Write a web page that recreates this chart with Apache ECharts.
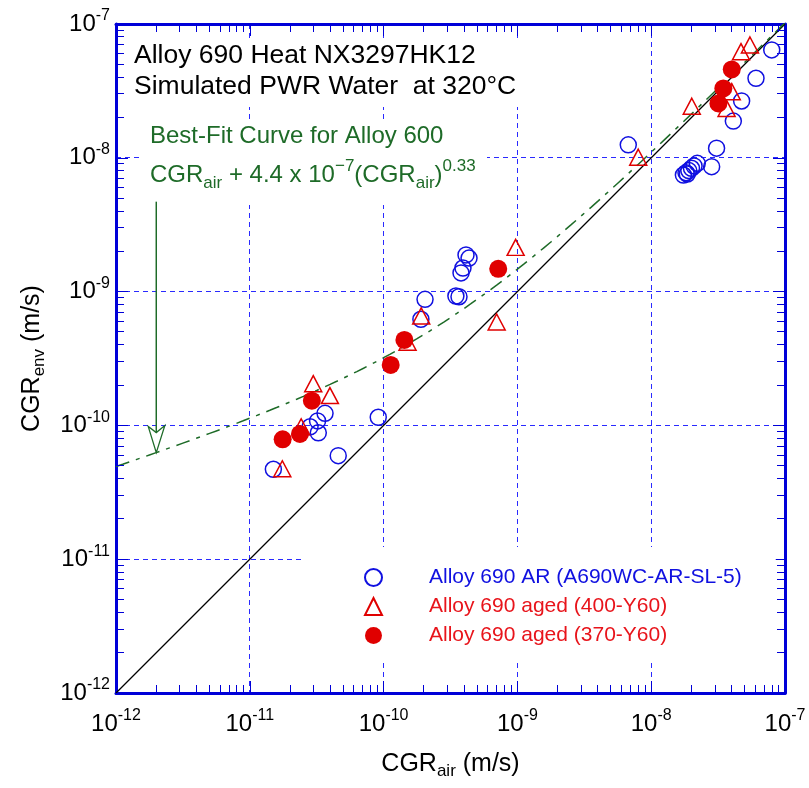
<!DOCTYPE html>
<html>
<head>
<meta charset="utf-8">
<script src="https://cdn.jsdelivr.net/npm/echarts@6/dist/echarts.min.js"></script>
<style>
  html, body { margin: 0; padding: 0; background: #ffffff; }
  #chart { width: 809px; height: 788px; }
</style>
</head>
<body>
<div id="chart"></div>
<script>
// Alloy 690 AR (A690WC-AR-SL-5): CGR in air vs. CGR in environment (m/s)
const arAir = [1.50e-11, 4.58e-11, 3.65e-11, 3.21e-11, 3.25e-11, 2.82e-11, 9.12e-11,
  2.04e-10, 1.90e-10, 3.47e-10, 3.66e-10, 4.13e-10, 4.35e-10, 3.92e-10, 3.79e-10,
  6.74e-9, 3.08e-8, 2.83e-8, 1.74e-8, 1.82e-8, 1.91e-8, 2.00e-8, 2.09e-8, 2.21e-8, 1.86e-8,
  7.96e-8, 6.07e-8, 4.74e-8, 4.11e-8];
const arEnv = [4.70e-11, 5.94e-11, 1.23e-10, 1.08e-10, 8.81e-11, 9.77e-11, 1.15e-10,
  8.75e-10, 6.21e-10, 9.27e-10, 9.16e-10, 1.88e-9, 1.78e-9, 1.50e-9, 1.38e-9,
  1.25e-8, 1.18e-8, 8.59e-9, 7.43e-9, 7.74e-9, 8.02e-9, 8.35e-9, 8.69e-9, 9.09e-9, 7.57e-9,
  6.40e-8, 3.93e-8, 2.66e-8, 1.88e-8];

// Alloy 690 aged (400-Y60)
const aged400Air = [2.98e-11, 3.97e-11, 2.42e-11, 1.75e-11, 9.70e-10, 1.91e-10, 7.00e-10,
  1.51e-10, 8.0e-9, 2.01e-8, 4.69e-8, 5.47e-8, 4.0e-8, 3.66e-8];
const aged400Env = [2.05e-10, 1.67e-10, 9.77e-11, 4.74e-11, 2.14e-9, 6.58e-10, 5.93e-10,
  4.18e-10, 1.01e-8, 2.43e-8, 6.21e-8, 6.97e-8, 3.12e-8, 2.34e-8];

// Alloy 690 aged (370-Y60)
const aged370Air = [1.76e-11, 2.37e-11, 2.91e-11, 1.13e-10, 1.43e-10, 7.19e-10, 4.0e-8, 3.46e-8, 3.18e-8];
const aged370Env = [7.87e-11, 8.63e-11, 1.53e-10, 2.83e-10, 4.35e-10, 1.48e-9, 4.58e-8, 3.30e-8, 2.55e-8];

// Alloy 600 best-fit: CGRenv = CGRair + 4.4e-7 * CGRair^0.33
const fitCoef = 4.4e-7;
const fitExp = 0.33;

// Axis range, decade grid and tick labels (powers of ten)
const axisMin = 1e-12;
const axisMax = 1e-7;
const tickExponents = [-12, -11, -10, -9, -8, -7];
const gridDecades = [1e-11, 1e-10, 1e-9, 1e-8];
const minorMantissas = [2, 3, 4, 5, 6, 7, 8, 9];

// Arrow pointing at the fit curve
const arrowAir = 2e-12;
const arrowTopEnv = 4.7e-9;

const seriesNames = ['Alloy 690 AR (A690WC-AR-SL-5)', 'Alloy 690 aged (400-Y60)', 'Alloy 690 aged (370-Y60)'];

const FONT = 'Liberation Sans, Arial, Helvetica, sans-serif';
const AXIS_BLUE = '#0000d8';
const GRID_BLUE = '#2a2aff';
const MARK_BLUE = '#1010e0';
const MARK_RED = '#e00000';
const TEXT_RED = '#e8141b';
const FIT_GREEN = '#1e6b28';

const pairs = (xs, ys) => xs.map((x, i) => [x, ys[i]]);
const crisp = v => Math.round(v - 0.5) + 0.5;

// fit curve sampled along log-spaced CGRair
const fitData = [];
for (let k = 0; k <= 100; k++) {
  const x = Math.pow(10, Math.log10(axisMin) + k * (Math.log10(axisMax) - Math.log10(axisMin)) / 100);
  fitData.push([x, x + fitCoef * Math.pow(x, fitExp)]);
}
const arrowTipEnv = arrowAir + fitCoef * Math.pow(arrowAir, fitExp);

const minorValues = [];
for (let e = Math.log10(axisMin); e < Math.log10(axisMax); e++) {
  for (const m of minorMantissas) minorValues.push(m * Math.pow(10, e));
}

function powLabel(v) {
  const e = Math.round(Math.log10(v));
  if (tickExponents.indexOf(e) < 0) return '';
  return '{b|10}{e|' + e + '}';
}
const labelRich = {
  b: { fontFamily: FONT, fontSize: 24, color: '#000' },
  e: { fontFamily: FONT, fontSize: 16, color: '#000', padding: [0, 0, 16, 0] }
};

function baseAxis(pos, labelled) {
  return {
    type: 'log', logBase: 10, min: axisMin, max: axisMax, position: pos,
    axisLine: { show: true, onZero: false, lineStyle: { color: AXIS_BLUE, width: 3 } },
    axisTick: { show: true, inside: true, length: 12, lineStyle: { color: AXIS_BLUE, width: 1 } },
    minorTick: { show: false },
    minorSplitLine: { show: false },
    splitLine: { show: false },
    splitArea: { show: false },
    axisLabel: labelled ? {
      show: true, formatter: powLabel, rich: labelRich, margin: pos === 'bottom' ? 15 : 6
    } : { show: false }
  };
}

const titleRich = {
  n: { fontFamily: FONT, fontSize: 25, color: '#000' },
  s: { fontFamily: FONT, fontSize: 17, color: '#000', padding: [15, 0, 0, 0] }
};
const xBottom = Object.assign(baseAxis('bottom', true), {
  name: '{n|CGR}{s|air}{n| (m/s)}', nameLocation: 'middle', nameGap: 55,
  nameTextStyle: { rich: titleRich }
});
const yLeft = Object.assign(baseAxis('left', true), {
  name: '{n|CGR}{s|env}{n| (m/s)}', nameLocation: 'middle', nameGap: 68, nameRotate: 90,
  nameTextStyle: { rich: titleRich }
});

const chart = echarts.init(document.getElementById('chart'), null, { renderer: 'canvas' });

chart.setOption({
  animation: false,
  backgroundColor: '#ffffff',
  grid: { left: 116, top: 24, width: 669, height: 669, containLabel: false, outerBoundsMode: 'none' },
  xAxis: [xBottom, baseAxis('top', false)],
  yAxis: [yLeft, baseAxis('right', false)],
  legend: {
    orient: 'vertical', left: 304, top: 547,
    padding: [20, 34, 16, 60], backgroundColor: '#ffffff',
    itemWidth: 17, itemHeight: 17, itemGap: 8,
    selectedMode: false,
    textStyle: { fontFamily: FONT, fontSize: 21, lineHeight: 21, padding: [0, 0, 0, 42] },
    data: [
      { name: seriesNames[0], textStyle: { color: MARK_BLUE } },
      { name: seriesNames[1], textStyle: { color: TEXT_RED } },
      { name: seriesNames[2], textStyle: { color: TEXT_RED } }
    ]
  },
  graphic: [
    { type: 'rect', z: 1, shape: { x: 128, y: 38, width: 398, height: 69 }, style: { fill: '#ffffff' } },
    { type: 'rect', z: 1, shape: { x: 143, y: 120, width: 344, height: 85 }, style: { fill: '#ffffff' } },
    {
      type: 'text', z: 5, x: 134, y: 40,
      style: {
        text: 'Alloy 690 Heat NX3297HK12\nSimulated PWR Water  at 320°C',
        font: '26.5px ' + FONT, fill: '#000', lineHeight: 31, verticalAlign: 'top'
      }
    },
    {
      type: 'text', z: 5, x: 150, y: 136,
      style: {
        text: 'Best-Fit Curve for Alloy 600',
        font: '24px ' + FONT, fill: FIT_GREEN, verticalAlign: 'middle'
      }
    },
    {
      type: 'text', z: 5, x: 150, y: 175,
      style: {
        text: '{n|CGR}{s|air}{n| + 4.4 x 10}{p|−7}{n|(CGR}{s|air}{n|)}{p|0.33}',
        verticalAlign: 'middle',
        rich: {
          n: { fontFamily: FONT, fontSize: 24, fill: FIT_GREEN, color: FIT_GREEN },
          s: { fontFamily: FONT, fontSize: 17, fill: FIT_GREEN, color: FIT_GREEN, padding: [16, 0, 0, 0] },
          p: { fontFamily: FONT, fontSize: 17, fill: FIT_GREEN, color: FIT_GREEN, padding: [0, 0, 18, 0] }
        }
      }
    }
  ],
  series: [
    {
      // dashed decade grid, drawn through the axis scales
      name: 'decadeGrid', type: 'custom', z: 0, silent: true,
      data: gridDecades.map(v => [v, v]),
      renderItem: (params, api) => {
        const v = api.value(0);
        const b = api.coord([v, axisMin]);
        const t = api.coord([v, axisMax]);
        const l = api.coord([axisMin, v]);
        const r = api.coord([axisMax, v]);
        const cx = crisp(b[0]);
        const cy = crisp(l[1]);
        return { type: 'group', children: [
          { type: 'line', shape: { x1: cx, y1: t[1], x2: cx, y2: b[1] },
            style: { stroke: GRID_BLUE, lineWidth: 1, lineDash: [5, 4] } },
          { type: 'line', shape: { x1: l[0], y1: cy, x2: r[0], y2: cy },
            style: { stroke: GRID_BLUE, lineWidth: 1, lineDash: [5, 4] } }
        ] };
      }
    },
    {
      name: 'minorX', type: 'custom', z: 3, silent: true,
      data: minorValues.map(v => [v, axisMin]),
      renderItem: (params, api) => {
        const v = api.value(0);
        const b = api.coord([v, axisMin]);
        const t = api.coord([v, axisMax]);
        const x = crisp(b[0]);
        return { type: 'group', children: [
          { type: 'line', shape: { x1: x, y1: b[1], x2: x, y2: b[1] - 8 }, style: { stroke: AXIS_BLUE, lineWidth: 1 } },
          { type: 'line', shape: { x1: x, y1: t[1], x2: x, y2: t[1] + 8 }, style: { stroke: AXIS_BLUE, lineWidth: 1 } }
        ] };
      }
    },
    {
      name: 'minorY', type: 'custom', z: 3, silent: true,
      data: minorValues.map(v => [axisMin, v]),
      renderItem: (params, api) => {
        const v = api.value(1);
        const l = api.coord([axisMin, v]);
        const r = api.coord([axisMax, v]);
        const y = crisp(l[1]);
        return { type: 'group', children: [
          { type: 'line', shape: { x1: l[0], y1: y, x2: l[0] + 8, y2: y }, style: { stroke: AXIS_BLUE, lineWidth: 1 } },
          { type: 'line', shape: { x1: r[0], y1: y, x2: r[0] - 8, y2: y }, style: { stroke: AXIS_BLUE, lineWidth: 1 } }
        ] };
      }
    },
    {
      name: 'oneToOne', type: 'line', z: 2, silent: true, symbol: 'none',
      data: [[axisMin, axisMin], [axisMax, axisMax]],
      lineStyle: { color: '#000000', width: 1.2 }
    },
    {
      name: 'fit600', type: 'line', z: 2, silent: true, symbol: 'none', smooth: false,
      data: fitData,
      lineStyle: { color: FIT_GREEN, width: 1.5, type: [14, 7, 4, 7] }
    },
    {
      name: 'arrow', type: 'custom', z: 4, silent: true,
      data: [[arrowAir, arrowTipEnv, arrowTopEnv]],
      renderItem: (params, api) => {
        const tip = api.coord([api.value(0), api.value(1)]);
        const top = api.coord([api.value(0), api.value(2)]);
        return { type: 'group', children: [
          { type: 'line', shape: { x1: top[0], y1: top[1], x2: tip[0], y2: tip[1] - 20 },
            style: { stroke: FIT_GREEN, lineWidth: 1.5 } },
          { type: 'polygon', shape: { points: [
            [tip[0] - 8, tip[1] - 26], [tip[0], tip[1]], [tip[0] + 8.5, tip[1] - 27], [tip[0], tip[1] - 20]
          ] }, style: { stroke: FIT_GREEN, lineWidth: 1.3, fill: 'rgba(0,0,0,0)' } }
        ] };
      }
    },
    {
      name: seriesNames[0], type: 'scatter', z: 5,
      symbol: 'circle', symbolSize: 16,
      data: pairs(arAir, arEnv),
      itemStyle: { color: 'rgba(0,0,0,0)', borderColor: MARK_BLUE, borderWidth: 1.5, opacity: 1 }
    },
    {
      name: seriesNames[1], type: 'scatter', z: 6,
      symbol: 'triangle', symbolSize: [17, 16],
      data: pairs(aged400Air, aged400Env),
      itemStyle: { color: 'rgba(0,0,0,0)', borderColor: MARK_RED, borderWidth: 1.5, opacity: 1 }
    },
    {
      name: seriesNames[2], type: 'scatter', z: 7,
      symbol: 'circle', symbolSize: 18,
      data: pairs(aged370Air, aged370Env),
      itemStyle: { color: MARK_RED, borderWidth: 0, opacity: 1 }
    }
  ]
});
</script>
</body>
</html>
